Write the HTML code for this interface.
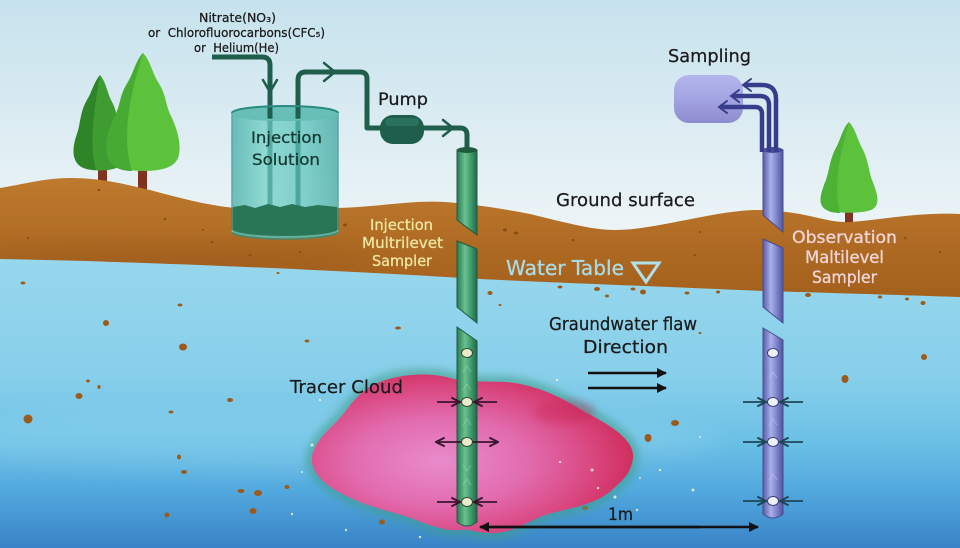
<!DOCTYPE html>
<html><head><meta charset="utf-8"><style>
html,body{margin:0;padding:0;background:#fff;}
svg{display:block;}
text{font-family:"DejaVu Sans","Liberation Sans",sans-serif;}
</style></head><body>
<svg width="960" height="548" viewBox="0 0 960 548" xmlns="http://www.w3.org/2000/svg">
<defs>
<linearGradient id="sky" x1="0" y1="0" x2="0" y2="1">
<stop offset="0" stop-color="#c6e2ed"/><stop offset="0.5" stop-color="#e0eef3"/><stop offset="1" stop-color="#f7fafa"/>
</linearGradient>
<linearGradient id="water" x1="0" y1="260" x2="0" y2="548" gradientUnits="userSpaceOnUse">
<stop offset="0" stop-color="#97d7ed"/><stop offset="0.4" stop-color="#88cfea"/><stop offset="0.62" stop-color="#6cc1e6"/><stop offset="0.8" stop-color="#52a9de"/><stop offset="1" stop-color="#3983c6"/>
</linearGradient>
<linearGradient id="ground" x1="0" y1="180" x2="0" y2="298" gradientUnits="userSpaceOnUse">
<stop offset="0" stop-color="#bd7a2e"/><stop offset="0.5" stop-color="#b06c24"/><stop offset="1" stop-color="#a3601c"/>
</linearGradient>
<linearGradient id="gw" x1="0" y1="0" x2="1" y2="0">
<stop offset="0" stop-color="#2a7a52"/><stop offset="0.4" stop-color="#6ac08e"/><stop offset="0.7" stop-color="#3e9a6c"/><stop offset="1" stop-color="#24684a"/>
</linearGradient>
<linearGradient id="bw" x1="0" y1="0" x2="1" y2="0">
<stop offset="0" stop-color="#585ca8"/><stop offset="0.4" stop-color="#aab0ea"/><stop offset="0.7" stop-color="#7c82c8"/><stop offset="1" stop-color="#5055a0"/>
</linearGradient>
<linearGradient id="tank" x1="0" y1="0" x2="1" y2="0">
<stop offset="0" stop-color="#3aaaa2"/><stop offset="0.3" stop-color="#6fd0c6"/><stop offset="0.7" stop-color="#58c2bb"/><stop offset="1" stop-color="#3aa49c"/>
</linearGradient>
<linearGradient id="box" x1="0" y1="0" x2="0" y2="1">
<stop offset="0" stop-color="#b4b6ee"/><stop offset="0.5" stop-color="#a3a4e2"/><stop offset="1" stop-color="#8c8cd0"/>
</linearGradient>
<radialGradient id="cloud" cx="0.4" cy="0.55" r="0.6">
<stop offset="0" stop-color="#e88ccb"/><stop offset="0.45" stop-color="#e26cb0"/><stop offset="0.8" stop-color="#d9467e"/><stop offset="1" stop-color="#cf2f5e"/>
</radialGradient>
<filter id="blur" x="-20%" y="-20%" width="140%" height="140%"><feGaussianBlur stdDeviation="4"/></filter>
<filter id="blur2" x="-20%" y="-20%" width="140%" height="140%"><feGaussianBlur stdDeviation="12"/></filter>
<clipPath id="gclip"><path d="M0,188 C25,184 45,178 70,178 C100,178 120,183 150,190 C180,198 205,205 235,208 L335,208 C380,207 410,200 445,202 C470,204 500,208 530,214 C560,221 590,230 615,230 C650,230 700,215 740,211 C760,209 775,210 800,214 C820,218 835,223 850,222 C880,220 920,212 960,214 L960,297 C900,295 800,292 763,291 C650,286 540,282 480,279 C400,274 320,270 200,265 C120,262 60,260 0,259 Z"/></clipPath>
<marker id="ap" viewBox="0 0 10 10" refX="9" refY="5" markerWidth="6" markerHeight="6" orient="auto"><path d="M1,1 L9,5 L1,9" fill="none" stroke="#3a1530" stroke-width="1.8"/></marker>
<marker id="ab" viewBox="0 0 10 10" refX="9" refY="5" markerWidth="6" markerHeight="6" orient="auto"><path d="M1,1 L9,5 L1,9" fill="none" stroke="#1f4656" stroke-width="1.8"/></marker>
<marker id="ak" viewBox="0 0 10 10" refX="9" refY="5" markerWidth="4" markerHeight="4" orient="auto"><path d="M0,0 L10,5 L0,10 Z" fill="#111"/></marker>
</defs>

<!-- sky -->
<rect x="0" y="0" width="960" height="300" fill="url(#sky)"/>
<!-- water -->
<rect x="0" y="250" width="960" height="298" fill="url(#water)"/>
<ellipse cx="300" cy="440" rx="420" ry="30" fill="#a8e0f2" opacity="0.25" filter="url(#blur2)"/>

<!-- trees left -->
<rect x="98" y="160" width="9" height="24" fill="#7e3420"/>
<path d="M100,75 C106,82 107,92 111,100 C118,112 117,122 121,134 C126,148 126,160 120,166 C112,172 88,172 80,166 C72,160 72,148 77,134 C81,122 80,112 87,100 C92,92 94,82 100,75 Z" fill="#3e9c31"/>
<path d="M100,75 C94,82 92,92 87,100 C80,112 81,122 77,134 C72,148 72,160 80,166 C84,169 90,170 96,170 C90,150 92,120 100,75 Z" fill="#2f8428"/>
<rect x="138" y="160" width="9" height="31" fill="#7e3420"/>
<path d="M143,53 C150,60 152,72 158,82 C166,94 165,102 170,114 C178,130 182,146 178,158 C174,168 160,171 143,171 C126,171 112,168 108,158 C104,146 108,130 116,114 C121,102 120,94 128,82 C134,72 136,60 143,53 Z" fill="#5cc23c"/>
<path d="M143,53 C136,60 134,72 128,82 C120,94 121,102 116,114 C108,130 104,146 108,158 C112,168 122,171 132,171 C122,140 128,100 143,53 Z" fill="#47ab33"/>
<!-- tree right -->
<rect x="845" y="204" width="8" height="20" fill="#7e3420"/>
<path d="M849,122 C855,128 857,138 861,146 C868,158 868,168 872,180 C878,195 880,204 873,209 C865,214 833,214 825,209 C818,204 820,195 826,180 C830,168 830,158 837,146 C841,138 843,128 849,122 Z" fill="#5cc23c"/>
<path d="M849,122 C843,128 841,138 837,146 C830,158 830,168 826,180 C820,195 818,204 825,209 C829,212 834,213 840,213 C834,190 838,160 849,122 Z" fill="#4cb236"/>

<!-- ground -->
<path d="M0,188 C25,184 45,178 70,178 C100,178 120,183 150,190 C180,198 205,205 235,208 L335,208 C380,207 410,200 445,202 C470,204 500,208 530,214 C560,221 590,230 615,230 C650,230 700,215 740,211 C760,209 775,210 800,214 C820,218 835,223 850,222 C880,220 920,212 960,214 L960,297 C900,295 800,292 763,291 C650,286 540,282 480,279 C400,274 320,270 200,265 C120,262 60,260 0,259 Z" fill="url(#ground)"/>
<g clip-path="url(#gclip)">
<ellipse cx="170" cy="262" rx="200" ry="18" fill="#93531a" opacity="0.35" filter="url(#blur2)"/>
</g>
<!-- ground specks -->
<g fill="#8a4c16">
<ellipse cx="99" cy="190" rx="1.5" ry="1"/><ellipse cx="165" cy="219" rx="1.5" ry="1"/><ellipse cx="203" cy="230" rx="1.2" ry="1"/><ellipse cx="212" cy="242" rx="1.5" ry="1"/><ellipse cx="250" cy="255" rx="1.5" ry="1"/><ellipse cx="28" cy="238" rx="1.2" ry="1"/>
<ellipse cx="345" cy="225" rx="2" ry="1.5"/><ellipse cx="505" cy="230" rx="2" ry="1.5"/><ellipse cx="516" cy="233" rx="2" ry="1.5"/><ellipse cx="573" cy="240" rx="1.5" ry="1"/><ellipse cx="695" cy="255" rx="1.2" ry="1"/><ellipse cx="700" cy="232" rx="1.2" ry="1"/><ellipse cx="905" cy="238" rx="1.5" ry="1"/><ellipse cx="940" cy="252" rx="1.2" ry="1"/><ellipse cx="300" cy="252" rx="1.2" ry="1"/>
</g>

<!-- water specks -->
<g fill="#9c5a1c">
<ellipse cx="23" cy="283" rx="2.5" ry="1.5"/><ellipse cx="106" cy="323" rx="3" ry="3"/><ellipse cx="180" cy="305" rx="2.5" ry="1.5"/><ellipse cx="183" cy="347" rx="4" ry="3.5"/><ellipse cx="88" cy="381" rx="2" ry="1.5"/><ellipse cx="99" cy="387" rx="1.5" ry="2"/><ellipse cx="79" cy="396" rx="3.5" ry="3"/><ellipse cx="28" cy="419" rx="4.5" ry="4.5"/><ellipse cx="171" cy="412" rx="2.5" ry="1.5"/><ellipse cx="230" cy="400" rx="3" ry="2"/><ellipse cx="179" cy="457" rx="2" ry="2.5"/><ellipse cx="184" cy="472" rx="3" ry="2"/><ellipse cx="241" cy="491" rx="3.5" ry="2"/><ellipse cx="258" cy="493" rx="4" ry="3"/><ellipse cx="253" cy="511" rx="3.5" ry="3"/><ellipse cx="287" cy="487" rx="2.5" ry="2"/><ellipse cx="167" cy="515" rx="2.5" ry="2.5"/><ellipse cx="307" cy="341" rx="2.5" ry="1.5"/>
<ellipse cx="398" cy="328" rx="3" ry="1.5"/><ellipse cx="648" cy="438" rx="3.5" ry="4"/><ellipse cx="675" cy="423" rx="4" ry="3"/><ellipse cx="585" cy="508" rx="3" ry="2"/><ellipse cx="382" cy="522" rx="3" ry="2.5"/><ellipse cx="845" cy="379" rx="3.5" ry="4"/><ellipse cx="924" cy="357" rx="3" ry="3"/><ellipse cx="923" cy="303" rx="2.5" ry="2"/><ellipse cx="700" cy="333" rx="1.5" ry="1"/>
<ellipse cx="490" cy="293" rx="2.5" ry="2"/><ellipse cx="560" cy="287" rx="2.5" ry="1.5"/><ellipse cx="597" cy="289" rx="3" ry="2"/><ellipse cx="633" cy="289" rx="2.5" ry="1.5"/><ellipse cx="643" cy="292" rx="3" ry="2.5"/><ellipse cx="687" cy="293" rx="2.5" ry="1.5"/><ellipse cx="718" cy="292" rx="2" ry="1.5"/><ellipse cx="808" cy="295" rx="3" ry="2"/><ellipse cx="880" cy="297" rx="2" ry="1.5"/><ellipse cx="907" cy="299" rx="2" ry="1.5"/><ellipse cx="278" cy="273" rx="1.5" ry="1"/><ellipse cx="607" cy="296" rx="2" ry="1.5"/><ellipse cx="500" cy="305" rx="1.5" ry="1"/>
</g>

<!-- tracer cloud -->
<path d="M380,382 C400,374 430,372 450,378 C475,384 495,380 515,383 C545,388 565,400 585,412 C610,425 635,440 633,458 C631,475 620,482 612,490 C595,505 570,508 548,514 C530,520 515,532 495,533 C478,534 470,528 460,530 C440,532 420,520 398,514 C375,508 350,500 332,488 C314,476 308,462 314,450 C320,435 335,425 345,412 C355,398 365,388 380,382 Z" fill="none" stroke="#3f9f8a" stroke-width="12" opacity="0.6" filter="url(#blur)"/>
<path d="M380,382 C400,374 430,372 450,378 C475,384 495,380 515,383 C545,388 565,400 585,412 C610,425 635,440 633,458 C631,475 620,482 612,490 C595,505 570,508 548,514 C530,520 515,532 495,533 C478,534 470,528 460,530 C440,532 420,520 398,514 C375,508 350,500 332,488 C314,476 308,462 314,450 C320,435 335,425 345,412 C355,398 365,388 380,382 Z" fill="url(#cloud)"/>
<ellipse cx="565" cy="412" rx="30" ry="12" fill="#c42050" opacity="0.35" filter="url(#blur)"/>
<!-- sparkles -->
<g fill="#eef4d8" opacity="0.85">
<circle cx="560" cy="462" r="1.2"/><circle cx="592" cy="470" r="1.5"/><circle cx="598" cy="488" r="1.2"/><circle cx="615" cy="497" r="1.5"/><circle cx="302" cy="472" r="1"/><circle cx="312" cy="445" r="1.5"/><circle cx="292" cy="514" r="1.2"/><circle cx="346" cy="530" r="1.2"/><circle cx="420" cy="537" r="1.2"/><circle cx="640" cy="478" r="1"/><circle cx="660" cy="470" r="1.2"/><circle cx="693" cy="490" r="1.5"/><circle cx="700" cy="437" r="1"/><circle cx="625" cy="388" r="1.2"/><circle cx="557" cy="380" r="1.2"/><circle cx="320" cy="400" r="1.2"/><circle cx="637" cy="510" r="1.2"/><circle cx="540" cy="527" r="1.2"/>
</g>

<!-- injection tank (back) -->
<ellipse cx="285" cy="113" rx="53" ry="7" fill="#4ab4aa" opacity="0.8"/>
<!-- pipes injection -->
<g fill="none" stroke="#1f5e4a" stroke-width="5" stroke-linejoin="round">
<path d="M212,57 L262,57 Q270,57 270,65 L270,210"/>
<path d="M298,210 L298,80 Q298,72 306,72 L360,72 Q367,72 367,79 L367,128 L382,128"/>
<path d="M422,128 L460,128 Q467,128 467,135 L467,150"/>
</g>
<g fill="none" stroke="#1f5e4a" stroke-width="2.5" stroke-linecap="round" stroke-linejoin="round">
<polyline points="263,80 270,92 277,80"/>
<polyline points="324,63 335,72 324,81"/>
<polyline points="443,120 453,128 443,136"/>
</g>
<!-- tank front -->
<path d="M232,113 L232,232 A53,7 0 0 0 338,232 L338,113 A53,7 0 0 1 232,113 Z" fill="url(#tank)" opacity="0.72" stroke="#2c8c84" stroke-width="1.5"/>
<path d="M233,207 L245,205 L255,208 L268,204 L280,207 L292,204 L305,207 L318,205 L337,207 L337,232 A52,6 0 0 1 233,232 Z" fill="#287656"/>
<ellipse cx="285" cy="113" rx="53" ry="7" fill="none" stroke="#2a8a80" stroke-width="2"/>
<path d="M232,113 A53,7 0 0 0 338,113" fill="none" stroke="#82d8cc" stroke-width="2" opacity="0.7"/>
<path d="M232,230 A53,7 0 0 0 338,230" fill="none" stroke="#8ad6c8" stroke-width="2" opacity="0.6"/>

<!-- pump -->
<rect x="380" y="115" width="44" height="29" rx="13" fill="#1f5e4a"/>
<rect x="385" y="118" width="34" height="8" rx="4" fill="#2f7a62" opacity="0.7"/>

<!-- injection well -->
<g fill="url(#gw)" stroke="#1f5a40" stroke-width="1">
<polygon points="457,150 477,150 477,235 457,220"/>
<polygon points="457,241 477,249 477,323 457,307"/>
<path d="M457,327 L477,341 L477,522 Q467,530 457,522 Z"/>
</g>
<ellipse cx="467" cy="150" rx="10" ry="3" fill="#1f5a40"/>
<g fill="none" stroke="#9fdcb6" stroke-width="1" opacity="0.5">
<polyline points="463,390 467,384 471,390"/><polyline points="463,372 467,366 471,372"/><polyline points="463,425 467,419 471,425"/><polyline points="463,465 467,471 471,465"/><polyline points="463,485 467,479 471,485"/>
</g>
<!-- observation well -->
<g fill="url(#bw)" stroke="#474b90" stroke-width="1">
<polygon points="763,150 783,150 783,232 763,215"/>
<polygon points="763,239 783,248 783,323 763,307"/>
<path d="M763,328 L783,340 L783,514 Q773,522 763,514 Z"/>
</g>
<ellipse cx="773" cy="150" rx="10" ry="3" fill="#4a4e94"/>
<g fill="none" stroke="#c8ccf4" stroke-width="1" opacity="0.5">
<polyline points="769,378 773,372 777,378"/><polyline points="769,425 773,419 777,425"/><polyline points="769,480 773,474 777,480"/>
</g>

<!-- sampling box and pipes -->
<rect x="674" y="75" width="69" height="48" rx="15" fill="url(#box)"/>
<g fill="none" stroke="#383c8c" stroke-width="4.5">
<path d="M776,152 L776,99 Q776,85 762,85 L744,85"/>
<path d="M769,152 L769,105 Q769,96 760,96 L732,96"/>
<path d="M762,152 L762,114 Q762,107 755,107 L720,107"/>
</g>
<g fill="none" stroke="#383c8c" stroke-width="2" stroke-linecap="round">
<polyline points="751,79 743,85 751,91"/>
<polyline points="739,90 731,96 739,102"/>
<polyline points="727,101 719,107 727,113"/>
</g>

<!-- port circles & arrows injection -->
<g stroke="#3a1530" stroke-width="1.8" fill="none">
<line x1="437" y1="402" x2="460" y2="402" marker-end="url(#ap)"/>
<line x1="497" y1="402" x2="474" y2="402" marker-end="url(#ap)"/>
<line x1="462" y1="442" x2="436" y2="442" marker-end="url(#ap)"/>
<line x1="472" y1="442" x2="498" y2="442" marker-end="url(#ap)"/>
<line x1="437" y1="502" x2="460" y2="502" marker-end="url(#ap)"/>
<line x1="497" y1="502" x2="474" y2="502" marker-end="url(#ap)"/>
</g>
<g fill="#e8ebc8" stroke="#2f4a38" stroke-width="1">
<ellipse cx="467" cy="353" rx="5.5" ry="4.5"/><ellipse cx="467" cy="402" rx="5.5" ry="4.5"/><ellipse cx="467" cy="442" rx="5.5" ry="4.5"/><ellipse cx="467" cy="502" rx="5.5" ry="4.5"/>
</g>
<!-- observation -->
<g stroke="#1f4656" stroke-width="1.8" fill="none">
<line x1="743" y1="402" x2="766" y2="402" marker-end="url(#ab)"/>
<line x1="803" y1="402" x2="780" y2="402" marker-end="url(#ab)"/>
<line x1="743" y1="442" x2="766" y2="442" marker-end="url(#ab)"/>
<line x1="803" y1="442" x2="780" y2="442" marker-end="url(#ab)"/>
<line x1="743" y1="501" x2="766" y2="501" marker-end="url(#ab)"/>
<line x1="803" y1="501" x2="780" y2="501" marker-end="url(#ab)"/>
</g>
<g fill="#eef0f6" stroke="#3a3e80" stroke-width="1">
<ellipse cx="773" cy="353" rx="5.5" ry="4.5"/><ellipse cx="773" cy="402" rx="5.5" ry="4.5"/><ellipse cx="773" cy="442" rx="5.5" ry="4.5"/><ellipse cx="773" cy="501" rx="5.5" ry="4.5"/>
</g>

<!-- flow arrows -->
<g stroke="#111" stroke-width="2.5">
<line x1="588" y1="373" x2="666" y2="373" marker-end="url(#ak)"/>
<line x1="588" y1="388" x2="666" y2="388" marker-end="url(#ak)"/>
<line x1="490" y1="527" x2="758" y2="527" marker-end="url(#ak)"/>
<line x1="700" y1="527" x2="480" y2="527" marker-end="url(#ak)"/>
</g>

<!-- water table triangle -->
<polygon points="633,263 659,263 646,282" fill="none" stroke="#b2e0ea" stroke-width="3" stroke-linejoin="miter"/>

<!-- texts -->
<g fill="#1a1a1a" stroke="#1a1a1a" stroke-width="0.25">
<text x="199" y="22" font-size="12" textLength="77" lengthAdjust="spacingAndGlyphs">Nitrate(NO₃)</text>
<text x="148" y="37" font-size="12" textLength="177" lengthAdjust="spacingAndGlyphs" xml:space="preserve">or  Chlorofluorocarbons(CFC₅)</text>
<text x="194" y="52" font-size="12" textLength="85" lengthAdjust="spacingAndGlyphs" xml:space="preserve">or  Helium(He)</text>
<text x="378" y="105" font-size="17" textLength="50" lengthAdjust="spacingAndGlyphs">Pump</text>
<text x="668" y="62" font-size="18" textLength="83" lengthAdjust="spacingAndGlyphs">Sampling</text>
<text x="556" y="206" font-size="18" textLength="139" lengthAdjust="spacingAndGlyphs">Ground surface</text>
<text x="549" y="330" font-size="18" textLength="148" lengthAdjust="spacingAndGlyphs">Graundwater flaw</text>
<text x="583" y="353" font-size="18" textLength="85" lengthAdjust="spacingAndGlyphs">Direction</text>
<text x="290" y="393" font-size="18" textLength="113" lengthAdjust="spacingAndGlyphs">Tracer Cloud</text>
<text x="608" y="520" font-size="17" textLength="25" lengthAdjust="spacingAndGlyphs">1m</text>
</g>
<g fill="#163a32" stroke="#163a32" stroke-width="0.3">
<text x="251" y="143" font-size="16" textLength="71" lengthAdjust="spacingAndGlyphs">Injection</text>
<text x="252" y="165" font-size="16" textLength="68" lengthAdjust="spacingAndGlyphs">Solution</text>
</g>
<g fill="#ece6a2" stroke="#ece6a2" stroke-width="0.3" font-size="15">
<text x="370" y="230" textLength="63" lengthAdjust="spacingAndGlyphs">Injection</text>
<text x="362" y="248" textLength="81" lengthAdjust="spacingAndGlyphs">Multrilevet</text>
<text x="372" y="266" textLength="60" lengthAdjust="spacingAndGlyphs">Sampler</text>
</g>
<text x="506" y="275" font-size="20" fill="#a9dbe6" stroke="#a9dbe6" stroke-width="0.3" textLength="118" lengthAdjust="spacingAndGlyphs">Water Table</text>
<g fill="#f0d6da" stroke="#f0d6da" stroke-width="0.3" font-size="17">
<text x="792" y="243" textLength="105" lengthAdjust="spacingAndGlyphs">Observation</text>
<text x="805" y="263" textLength="79" lengthAdjust="spacingAndGlyphs">Maltilevel</text>
<text x="812" y="283" textLength="65" lengthAdjust="spacingAndGlyphs">Sampler</text>
</g>
</svg>
</body></html>
